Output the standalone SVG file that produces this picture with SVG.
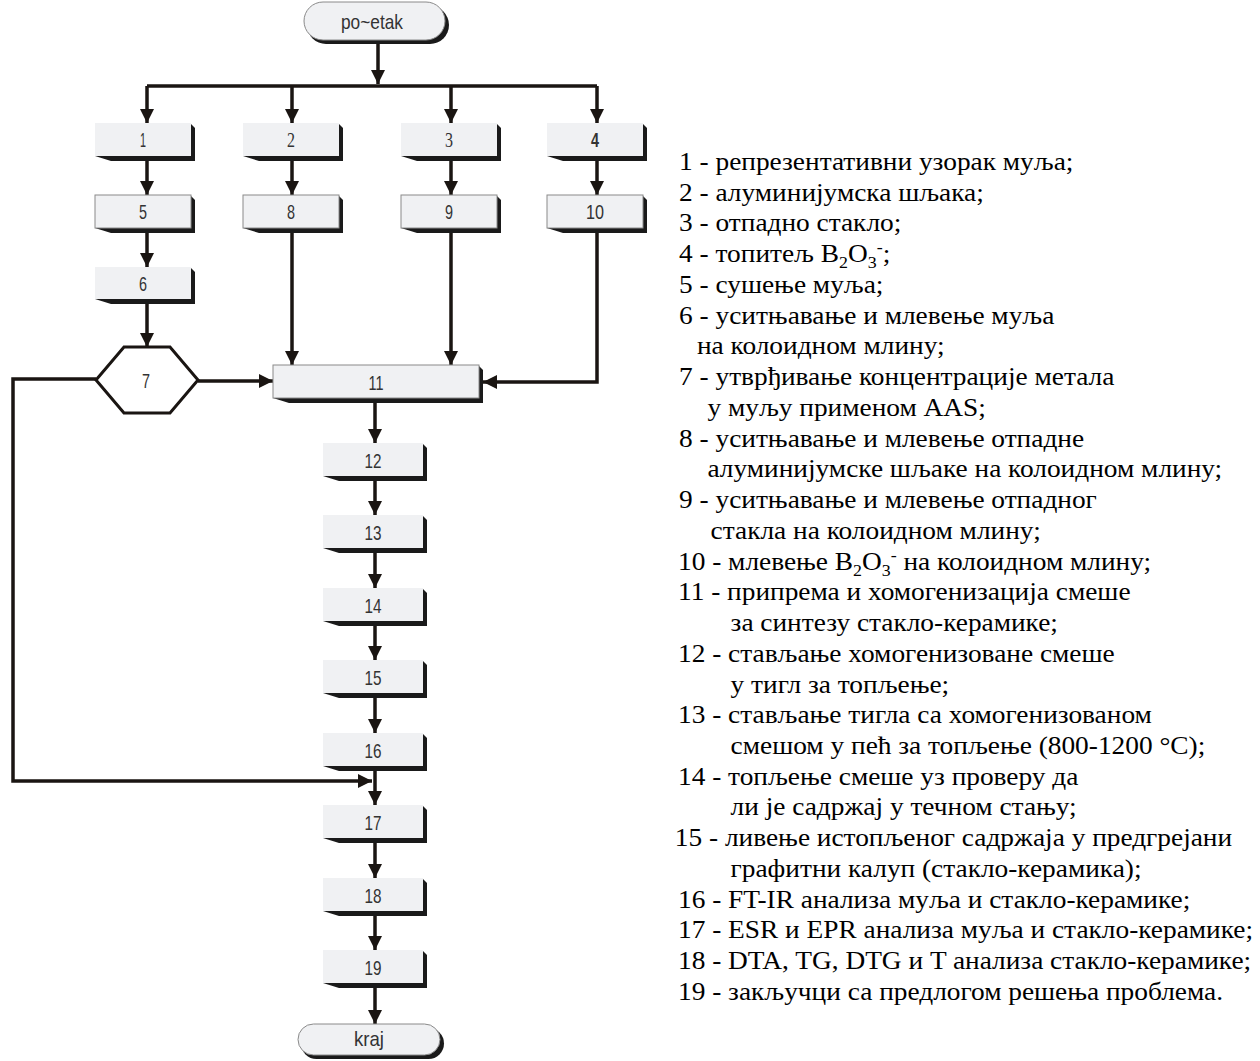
<svg xmlns="http://www.w3.org/2000/svg" width="1260" height="1061" viewBox="0 0 1260 1061">
<style>
.face{fill:#f0f1f3}
.facb{fill:#f0f1f3;stroke:#8a8a8a;stroke-width:1}
.sh{fill:#1a1a1a}
.lbl{font-family:"Liberation Sans",Arial,sans-serif;font-size:21px;fill:#333;text-anchor:middle}
.lbs{font-family:"Liberation Serif","Times New Roman",serif;font-size:21px;fill:#333;text-anchor:middle}
.ln{stroke:#1a1512;stroke-width:3.5;fill:none}
.leg{font-family:"Liberation Serif","Times New Roman",serif;font-size:26px;fill:#000}
.sub{font-size:17px}
</style>
<defs>
<marker id="ah" viewBox="0 0 14 14" refX="14" refY="7" markerWidth="14" markerHeight="14" markerUnits="userSpaceOnUse" orient="auto">
<path d="M0,0 L14,7 L0,14 z" fill="#1a1512"/>
</marker>
</defs>

<g id="connectors">
<path class="ln" d="M378,44 V84" marker-end="url(#ah)"/>
<path class="ln" d="M147,86 H597" stroke-width="4"/>
<path class="ln" d="M147,86 V123" marker-end="url(#ah)"/>
<path class="ln" d="M292,86 V123" marker-end="url(#ah)"/>
<path class="ln" d="M451,86 V123" marker-end="url(#ah)"/>
<path class="ln" d="M597,86 V123" marker-end="url(#ah)"/>
<path class="ln" d="M147,160 V195" marker-end="url(#ah)"/>
<path class="ln" d="M292,160 V195" marker-end="url(#ah)"/>
<path class="ln" d="M451,160 V195" marker-end="url(#ah)"/>
<path class="ln" d="M597,160 V195" marker-end="url(#ah)"/>
<path class="ln" d="M147,231 V267" marker-end="url(#ah)"/>
<path class="ln" d="M147,303 V347" marker-end="url(#ah)"/>
<path class="ln" d="M292,231 V365" marker-end="url(#ah)"/>
<path class="ln" d="M451,231 V365" marker-end="url(#ah)"/>
<path class="ln" d="M597,231 V382 H483" marker-end="url(#ah)"/>
<path class="ln" d="M198,381 H273" marker-end="url(#ah)"/>
<path class="ln" d="M96,379 H13 V781 H372" marker-end="url(#ah)"/>
<path class="ln" d="M375,403 V443" marker-end="url(#ah)"/>
<path class="ln" d="M375,481 V515" marker-end="url(#ah)"/>
<path class="ln" d="M375,553 V588" marker-end="url(#ah)"/>
<path class="ln" d="M375,626 V660" marker-end="url(#ah)"/>
<path class="ln" d="M375,698 V733" marker-end="url(#ah)"/>
<path class="ln" d="M375,771 V805" marker-end="url(#ah)"/>
<path class="ln" d="M375,843 V878" marker-end="url(#ah)"/>
<path class="ln" d="M375,916 V950" marker-end="url(#ah)"/>
<path class="ln" d="M375,988 V1024" marker-end="url(#ah)"/>
</g>

<g id="start">
<rect x="307" y="6" width="142" height="38" rx="19" class="sh"/>
<rect x="304" y="2" width="141" height="38" rx="19" fill="#f0f1f3" stroke="#8a8a8a" stroke-width="1"/>
<text x="372" y="29" class="lbl" textLength="62" lengthAdjust="spacingAndGlyphs">po~etak</text>
</g>

<g id="n1">
<polygon class="sh" points="191,124 195,128 195,161 111,161 95,156"/>
<rect class="face" x="95" y="123" width="96" height="33"/>
<text x="143" y="147" class="lbl" textLength="6" lengthAdjust="spacingAndGlyphs">1</text>
</g>
<g id="n2">
<polygon class="sh" points="339,124 343,128 343,161 259,161 243,156"/>
<rect class="face" x="243" y="123" width="96" height="33"/>
<text x="291" y="147" class="lbs" textLength="8" lengthAdjust="spacingAndGlyphs">2</text>
</g>
<g id="n3">
<polygon class="sh" points="497,124 501,128 501,161 417,161 401,156"/>
<rect class="face" x="401" y="123" width="96" height="33"/>
<text x="449" y="147" class="lbs" textLength="8" lengthAdjust="spacingAndGlyphs">3</text>
</g>
<g id="n4">
<polygon class="sh" points="643,124 647,128 647,161 563,161 547,156"/>
<rect class="face" x="547" y="123" width="96" height="33"/>
<text x="595" y="147" class="lbl" font-weight="bold" textLength="8" lengthAdjust="spacingAndGlyphs">4</text>
</g>

<g id="n5">
<polygon class="sh" points="191,196 195,200 195,233 111,233 95,228"/>
<rect class="facb" x="95" y="195" width="96" height="33"/>
<text x="143" y="219" class="lbl" textLength="8" lengthAdjust="spacingAndGlyphs">5</text>
</g>
<g id="n8">
<polygon class="sh" points="339,196 343,200 343,233 259,233 243,228"/>
<rect class="facb" x="243" y="195" width="96" height="33"/>
<text x="291" y="219" class="lbl" textLength="8" lengthAdjust="spacingAndGlyphs">8</text>
</g>
<g id="n9">
<polygon class="sh" points="497,196 501,200 501,233 417,233 401,228"/>
<rect class="facb" x="401" y="195" width="96" height="33"/>
<text x="449" y="219" class="lbl" textLength="8" lengthAdjust="spacingAndGlyphs">9</text>
</g>
<g id="n10">
<polygon class="sh" points="643,196 647,200 647,233 563,233 547,228"/>
<rect class="facb" x="547" y="195" width="96" height="33"/>
<text x="595" y="219" class="lbl" textLength="18" lengthAdjust="spacingAndGlyphs">10</text>
</g>

<g id="n6">
<polygon class="sh" points="191,268 195,272 195,304 111,304 95,299"/>
<rect class="face" x="95" y="267" width="96" height="32"/>
<text x="143" y="291" class="lbl" textLength="8" lengthAdjust="spacingAndGlyphs">6</text>
</g>

<g id="n7">
<polygon points="96,380 124,347 170,347 198,380 170,413 124,413" fill="#fff" stroke="#1a1512" stroke-width="3"/>
<text x="146" y="388" class="lbl" textLength="8" lengthAdjust="spacingAndGlyphs">7</text>
</g>

<g id="n11">
<polygon class="sh" points="479,366 483,370 483,403 289,403 273,398"/>
<rect class="facb" x="273" y="365" width="206" height="33"/>
<text x="376" y="390" class="lbl" textLength="15" lengthAdjust="spacingAndGlyphs">11</text>
</g>

<g id="n12">
<polygon class="sh" points="423,444 427,448 427,481 339,481 323,476"/>
<rect class="face" x="323" y="443" width="100" height="33"/>
<text x="373" y="468" class="lbl" textLength="17" lengthAdjust="spacingAndGlyphs">12</text>
</g>
<g id="n13">
<polygon class="sh" points="423,516 427,520 427,553 339,553 323,548"/>
<rect class="face" x="323" y="515" width="100" height="33"/>
<text x="373" y="540" class="lbl" textLength="17" lengthAdjust="spacingAndGlyphs">13</text>
</g>
<g id="n14">
<polygon class="sh" points="423,589 427,593 427,626 339,626 323,621"/>
<rect class="face" x="323" y="588" width="100" height="33"/>
<text x="373" y="613" class="lbl" textLength="17" lengthAdjust="spacingAndGlyphs">14</text>
</g>
<g id="n15">
<polygon class="sh" points="423,661 427,665 427,698 339,698 323,693"/>
<rect class="face" x="323" y="660" width="100" height="33"/>
<text x="373" y="685" class="lbl" textLength="17" lengthAdjust="spacingAndGlyphs">15</text>
</g>
<g id="n16">
<polygon class="sh" points="423,734 427,738 427,771 339,771 323,766"/>
<rect class="face" x="323" y="733" width="100" height="33"/>
<text x="373" y="758" class="lbl" textLength="17" lengthAdjust="spacingAndGlyphs">16</text>
</g>
<g id="n17">
<polygon class="sh" points="423,806 427,810 427,843 339,843 323,838"/>
<rect class="face" x="323" y="805" width="100" height="33"/>
<text x="373" y="830" class="lbl" textLength="17" lengthAdjust="spacingAndGlyphs">17</text>
</g>
<g id="n18">
<polygon class="sh" points="423,879 427,883 427,916 339,916 323,911"/>
<rect class="face" x="323" y="878" width="100" height="33"/>
<text x="373" y="903" class="lbl" textLength="17" lengthAdjust="spacingAndGlyphs">18</text>
</g>
<g id="n19">
<polygon class="sh" points="423,951 427,955 427,988 339,988 323,983"/>
<rect class="face" x="323" y="950" width="100" height="33"/>
<text x="373" y="975" class="lbl" textLength="17" lengthAdjust="spacingAndGlyphs">19</text>
</g>

<g id="end">
<rect x="301" y="1028" width="143" height="31" rx="15.5" class="sh"/>
<rect x="298" y="1024" width="142" height="31" rx="15.5" fill="#f0f1f3" stroke="#8a8a8a" stroke-width="1"/>
<text x="369" y="1046" class="lbl" textLength="30" lengthAdjust="spacingAndGlyphs">kraj</text>
</g>

<g id="legend" class="leg" transform="translate(678,0) scale(1.052,1) translate(-678,0)">
<text x="679" y="170">1 - репрезентативни узорак муља;</text>
<text x="679" y="200.7">2 - алуминијумска шљака;</text>
<text x="679" y="231.5">3 - отпадно стакло;</text>
<text x="679" y="262.2">4 - топитељ B<tspan class="sub" dy="6">2</tspan><tspan dy="-6">O</tspan><tspan class="sub" dy="6">3</tspan><tspan class="sub" dy="-15">-</tspan><tspan dy="9">;</tspan></text>
<text x="679" y="293">5 - сушење муља;</text>
<text x="679" y="323.7">6 - уситњавање и млевење муља</text>
<text x="696" y="354.4">на колоидном млину;</text>
<text x="679" y="385.2">7 - утврђивање концентрације метала</text>
<text x="706" y="415.9">у муљу применом AAS;</text>
<text x="679" y="446.7">8 - уситњавање и млевење отпадне</text>
<text x="706" y="477.4">алуминијумске шљаке на колоидном млину;</text>
<text x="679" y="508.1">9 - уситњавање и млевење отпадног</text>
<text x="709" y="538.9">стакла на колоидном млину;</text>
<text x="678" y="569.6">10 - млевење B<tspan class="sub" dy="6">2</tspan><tspan dy="-6">O</tspan><tspan class="sub" dy="6">3</tspan><tspan class="sub" dy="-15">-</tspan><tspan dy="9"> на колоидном млину;</tspan></text>
<text x="678" y="600.4">11 - припрема и хомогенизација смеше</text>
<text x="728" y="631.1">за синтезу стакло-керамике;</text>
<text x="678" y="661.8">12 - стављање хомогенизоване смеше</text>
<text x="728" y="692.6">у тигл за топљење;</text>
<text x="678" y="723.3">13 - стављање тигла са хомогенизованом</text>
<text x="728" y="754.1">смешом у пећ за топљење (800-1200 °C);</text>
<text x="678" y="784.8">14 - топљење смеше уз проверу да</text>
<text x="728" y="815.5">ли је садржај у течном стању;</text>
<text x="675" y="846.3">15 - ливење истопљеног садржаја у предгрејани</text>
<text x="728" y="877">графитни калуп (стакло-керамика);</text>
<text x="678" y="907.8">16 - FT-IR анализа муља и стакло-керамике;</text>
<text x="678" y="938.5">17 - ESR и EPR анализа муља и стакло-керамике;</text>
<text x="678" y="969.2">18 - DTA, TG, DTG и T анализа стакло-керамике;</text>
<text x="678" y="1000">19 - закључци са предлогом решења проблема.</text>
</g>
</svg>
